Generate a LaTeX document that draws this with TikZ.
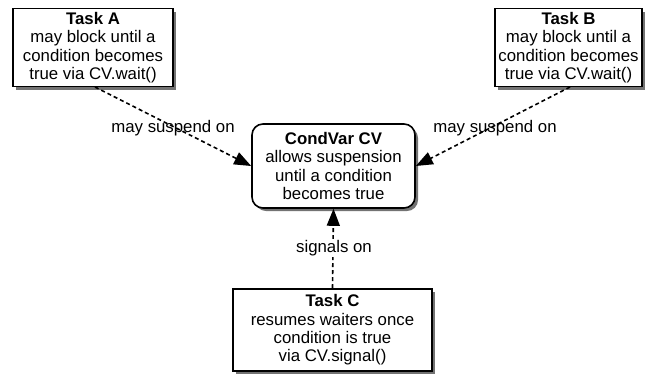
\documentclass[tikz,border=0pt]{standalone}
\usepackage{fontspec}
\setmainfont{Liberation Sans}
\usetikzlibrary{arrows.meta,shadows}
\begin{document}
\begin{tikzpicture}[x=1pt,y=-1pt,
  txt/.style={font=\fontsize{16.8}{18.3}\selectfont},
  box/.style={txt,draw=black,line width=1.6pt,fill=white,align=center,inner sep=0pt,
    drop shadow={shadow xshift=3pt,shadow yshift=-3pt,fill=black!55,opacity=1}},
  conn/.style={line width=1.6pt,dash pattern=on 4pt off 3pt,
    -{Triangle[length=17pt,width=13pt]}}]
\useasboundingbox (0,0) rectangle (647,373);
\node[box,minimum width=160pt,minimum height=78pt] (a) at (93,47.5)
  {\textbf{Task A}\\may block until a\\condition becomes\\true via CV.wait()};
\node[box,minimum width=147pt,minimum height=78pt] (b) at (568.5,47.5)
  {\textbf{Task B}\\may block until a\\condition becomes\\true via CV.wait()};
\node[box,rounded corners=11pt,minimum width=163pt,minimum height=84pt] (cv) at (333.5,166)
  {\textbf{CondVar CV}\\allows suspension\\until a condition\\becomes true};
\node[box,minimum width=199pt,minimum height=82pt] (c) at (332.5,330)
  {\textbf{Task C}\\resumes waiters once\\condition is true\\via CV.signal()};
\draw[conn] (95,87) -- (cv.west);
\draw[conn] (570,87) -- (cv.east);
\draw[conn] (c.north) -- (cv.south);
\node[txt] (l1) at (173,128) {may suspend on};
\node[txt] (l2) at (495,128) {may suspend on};
\node[txt,fill=white,inner sep=1pt] (l3) at (334,248) {signals on};
\end{tikzpicture}
\end{document}
